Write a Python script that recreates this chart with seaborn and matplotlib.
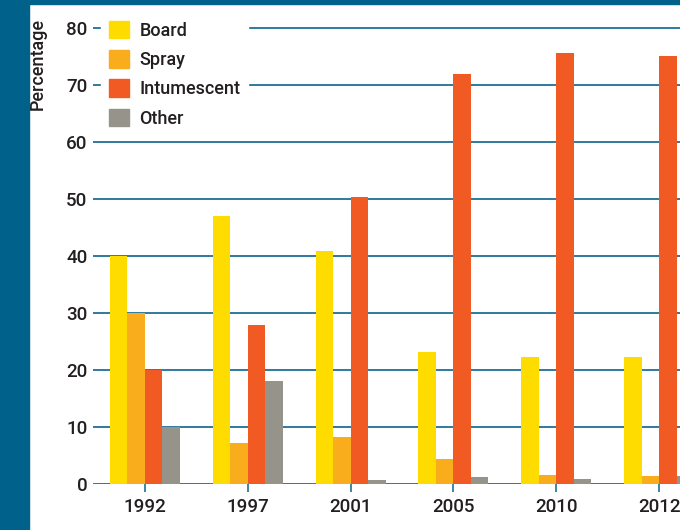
import matplotlib.pyplot as plt
import matplotlib.patches as mpatches
import pandas as pd
import seaborn as sns

sns.set_theme(style="white")
plt.rcParams["font.family"] = ["Roboto", "DejaVu Sans"]

years = ["1992", "1997", "2001", "2005", "2010", "2012"]
board = [40, 47, 40.9, 23.2, 22.3, 22.3]
spray = [30, 7.2, 8.3, 4.4, 1.6, 1.4]
intumescent = [20, 27.9, 50.4, 71.9, 75.6, 75.1]
other = [10, 18.1, 0.7, 1.2, 0.9, 1.4]

types = ["Board", "Spray", "Intumescent", "Other"]
colors = ["#FFDC00", "#F9AC1C", "#F15A22", "#96948A"]
teal = "#00628B"
grid_col = "#1F6F96"
txt = "#231F20"

rows = []
for name, vals in zip(types, [board, spray, intumescent, other]):
    for y, v in zip(years, vals):
        rows.append({"Year": y, "Type": name, "Value": v})
df = pd.DataFrame(rows)

fig = plt.figure(figsize=(6.8, 5.3), dpi=100)
W, H = 680, 530
ax = fig.add_axes([93 / W, 46 / H, 1 - 93 / W, (484 - 4) / H])

sns.barplot(data=df, x="Year", y="Value", hue="Type", hue_order=types,
            palette=colors, width=0.68, saturation=1, linewidth=0,
            edgecolor="none", ax=ax, legend=False)

ax.set_ylim(0, 480 / 5.7)
ax.set_xlim(-0.505, 5.204)
ax.set_yticks(range(0, 81, 10))
ax.set_xlabel("")
ax.set_ylabel("")
for s in ax.spines.values():
    s.set_visible(False)
ax.set_axisbelow(True)
ax.yaxis.grid(True, color=grid_col, linewidth=1.3)
ax.tick_params(axis="y", length=0, pad=4, labelsize=13.5, labelcolor=txt)
ax.tick_params(axis="x", length=6, width=1.2, color=grid_col, direction="out",
               pad=4, labelsize=13.5, labelcolor=txt, bottom=True)
for lab in ax.get_xticklabels() + ax.get_yticklabels():
    lab.set_fontweight("medium")

handles = [mpatches.Patch(color=c, label=t) for t, c in zip(types, colors)]
leg = ax.legend(handles=handles, loc="upper left", bbox_to_anchor=(0.005, 0.993),
                frameon=True, fontsize=13, handlelength=1.1, handleheight=1.1,
                handletextpad=0.55, labelspacing=0.58, borderpad=0.45,
                borderaxespad=0.3)
leg.get_frame().set_facecolor("white")
leg.get_frame().set_edgecolor("white")
leg.get_frame().set_alpha(1)
for t in leg.get_texts():
    t.set_color(txt)
    t.set_fontweight("medium")

fig.text(38 / W, 1 - 18 / H, "Percentage", rotation=90, ha="center", va="top",
         fontsize=13, color=txt, fontweight="medium")

fig.patches.append(mpatches.Rectangle((0, 0), 29 / W, 1, transform=fig.transFigure,
                                      color=teal, zorder=10))
fig.patches.append(mpatches.Rectangle((0, 1 - 4 / H), 1, 4 / H, transform=fig.transFigure,
                                      color=teal, zorder=10))

fig.savefig("out.png", dpi=100)
